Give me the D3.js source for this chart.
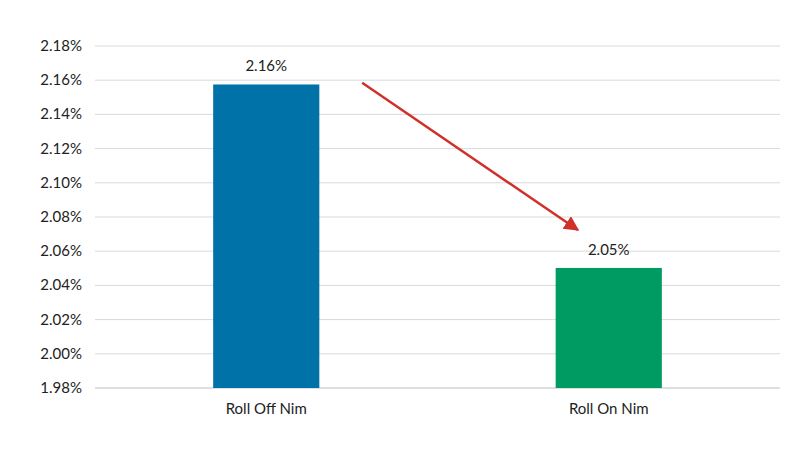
<!DOCTYPE html>
<html><head><meta charset="utf-8">
<script src="https://cdn.jsdelivr.net/npm/d3@7"></script>
<style>body{margin:0;background:#fff}text{font-family:Lato,"Open Sans",sans-serif;fill:#222}</style>
</head><body><svg id="c" width="801" height="455"></svg>
<script>
const categories=["Roll Off Nim","Roll On Nim"];
const values=[2.1575,2.0502];
const labels=["2.16%","2.05%"];
const colors=["#0072a7","#009a63"];
const yTicks=[1.98,2.00,2.02,2.04,2.06,2.08,2.10,2.12,2.14,2.16,2.18];
const arrowFrom={cat:"Roll Off Nim",dx:0.28,v:2.1585};
const arrowTo={cat:"Roll On Nim",dx:-0.09,v:2.0724};
const svg=d3.select("#c");
const x=d3.scaleBand().domain(categories).range([95,780]).padding(0);
const y=d3.scaleLinear().domain([1.98,2.18]).range([388,46]);
const bw=x.bandwidth()*0.31;
svg.selectAll(".g").data(yTicks).enter().append("line")
 .attr("x1",95).attr("x2",780).attr("y1",d=>y(d)).attr("y2",d=>y(d))
 .attr("stroke",d=>d===1.98?"#bfbfbf":"#d9d9d9").attr("stroke-width",1);
svg.selectAll(".t").data(yTicks).enter().append("text")
 .attr("x",82).attr("y",d=>y(d)+5).attr("text-anchor","end").attr("font-size",15)
 .text(d=>d.toFixed(2)+"%");
svg.selectAll(".b").data(values).enter().append("rect")
 .attr("x",(d,i)=>x(categories[i])+x.bandwidth()/2-bw/2).attr("width",bw)
 .attr("y",d=>y(d)).attr("height",d=>y(1.98)-y(d)).attr("fill",(d,i)=>colors[i]);
svg.selectAll(".l").data(values).enter().append("text")
 .attr("x",(d,i)=>x(categories[i])+x.bandwidth()/2).attr("y",d=>y(d)-13)
 .attr("text-anchor","middle").attr("font-size",15).text((d,i)=>labels[i]);
svg.selectAll(".c").data(categories).enter().append("text")
 .attr("x",d=>x(d)+x.bandwidth()/2).attr("y",414).attr("text-anchor","middle")
 .attr("font-size",15).text(d=>d);
svg.append("defs").append("marker").attr("id","ah").attr("viewBox","0 0 10 10")
 .attr("refX",9).attr("refY",5).attr("markerWidth",6).attr("markerHeight",6)
 .attr("orient","auto").attr("markerUnits","strokeWidth")
 .append("path").attr("d","M0,0L10,5L0,10z").attr("fill","#d0302a");
const px=p=>x(p.cat)+x.bandwidth()/2+p.dx*x.bandwidth();
svg.append("line").attr("x1",px(arrowFrom)).attr("y1",y(arrowFrom.v))
 .attr("x2",px(arrowTo)).attr("y2",y(arrowTo.v)).attr("stroke","#d0302a")
 .attr("stroke-width",2.5).attr("marker-end","url(#ah)");
</script></body></html>
